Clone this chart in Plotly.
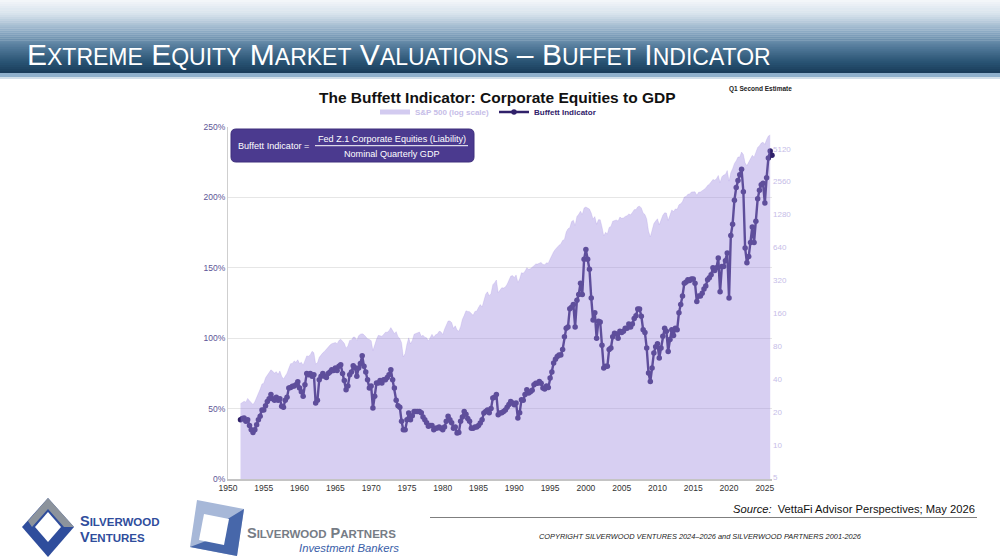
import pandas as pd
import plotly.graph_objects as go

# quarterly, Q4 1951 .. Q1 2026 (plotted at quarter start)
buffett_pct = [
    42,
    43, 43.3, 41, 42,      38, 35, 33, 35,        38.6, 42, 44.5, 49,    49, 52, 55, 57,
    60, 57, 56, 58,        56, 57, 51.6, 51,      56, 58, 64.6, 65,      65.8, 66, 67, 69,
    64.6, 62, 58.7, 67,    75, 74, 75, 73,        74, 54, 56, 70.5,      73, 75, 73, 72,
    75, 76, 77.6, 77,      78.8, 77, 80, 81.2,    75, 70, 63.4, 66,      74, 76, 80.5, 79,
    73, 78.8, 82, 87.6,    80, 76, 70.5, 64.6,    66, 50.4, 58.7, 68.2,  68.2, 70, 68.2, 70.5,
    70.5, 72, 74, 77.6,    70.5, 64.6, 56, 52,    51, 41, 35, 35,        42, 46.9, 42, 45,
    48, 48, 48, 48,        47, 44, 42, 40,        37.4, 38, 38, 35,      36, 36.2, 37, 36,
    35, 37, 41, 44.5,      42, 40, 36, 37,        32.7, 33, 41, 44,      48, 46, 43, 41,
    36, 36, 37, 37,        38, 39.8, 42, 46.9,    48, 49, 47, 50,        57.5, 58, 60, 45.7,
    46.9, 47, 48, 49,      51, 53, 55, 54,        52.8, 54, 43.3, 47,    56.3, 56, 60, 63.4,
    61, 62, 63, 67,        68, 68, 69.3, 68,      64.6, 64, 66, 65,      71.7, 76, 82.4, 85,
    87, 88, 88, 92,        101, 107, 108, 121,    122, 124, 108, 127,    131, 139, 131, 156,
    163, 156, 149, 128.5,  113, 118, 100, 112,    111.5, 95, 78.8, 80,   80, 92, 93, 101,
    103.5, 103, 100, 105,  104, 105, 107, 107,    110, 108, 110, 114,    116, 120.7, 120.7, 115.6,
    106, 104, 93, 75.3,    69.3, 78.8, 89.5, 94,  96, 86, 93, 101.3,     107, 105, 90.6, 99,
    106, 102, 107, 106,    118, 124, 130, 139,    140, 141.6, 141, 142,  142, 139, 126, 130,
    130, 132, 135, 137,    141.6, 143, 145, 150,  148, 150, 157, 133,    151, 151, 155, 160.5,
    128.5, 173, 181, 198,  207, 212, 216, 220,    204, 164, 153.6, 158,  168, 179, 168, 183,
    199, 205, 209, 210,    196, 214, 228, 233,
    230,
]

# S&P 500 quarter-end close, Q4 1951 .. Q4 2025
sp500 = [
    23.77,
    24.37, 24.96, 24.54, 26.57,   25.29, 24.14, 23.35, 24.81,   26.94, 29.21, 32.31, 35.98,
    36.58, 41.03, 43.67, 45.48,   48.48, 46.97, 45.35, 46.67,   44.11, 47.37, 42.42, 39.99,
    42.10, 45.24, 50.06, 55.21,   55.44, 58.47, 56.88, 59.89,   55.34, 56.92, 53.52, 58.11,
    65.06, 64.64, 66.73, 71.55,   69.55, 54.75, 56.27, 63.10,   66.57, 69.37, 71.70, 75.02,
    78.98, 81.69, 84.18, 84.75,   86.16, 84.12, 89.96, 92.43,   89.23, 84.74, 76.56, 80.33,
    90.20, 90.64, 96.71, 96.47,   90.20, 99.58, 102.67, 103.86, 101.51, 97.71, 93.12, 92.06,
    89.63, 72.72, 84.21, 92.15,   100.31, 99.70, 98.34, 102.09, 107.20, 107.14, 110.55, 118.05,
    111.52, 104.26, 108.43, 97.55, 93.98, 86.00, 63.54, 68.56,  83.36, 95.19, 83.87, 90.19,
    102.77, 104.28, 105.24, 107.46, 98.42, 100.48, 96.53, 95.10, 89.21, 95.53, 102.54, 96.11,
    101.59, 102.91, 109.32, 107.94, 102.09, 114.24, 125.46, 135.76, 136.00, 131.21, 116.18, 122.55,
    111.96, 109.61, 120.42, 140.64, 152.96, 168.11, 166.07, 164.93, 159.18, 153.18, 166.10, 167.24,
    180.66, 191.85, 182.08, 211.28, 238.90, 250.84, 231.32, 242.17, 291.70, 304.00, 321.83, 247.08,
    258.89, 273.50, 271.91, 277.72, 294.87, 317.98, 349.15, 353.40, 339.94, 358.02, 306.05, 330.22,
    375.22, 371.16, 387.86, 417.09, 403.69, 408.14, 417.80, 435.71, 451.67, 450.53, 458.93, 466.45,
    445.77, 444.27, 462.69, 459.27, 500.71, 544.75, 584.41, 615.93, 645.50, 670.63, 687.31, 740.74,
    757.12, 885.14, 947.28, 970.43, 1101.75, 1133.84, 1017.01, 1229.23,
    1286.37, 1372.71, 1282.71, 1469.25, 1498.58, 1454.60, 1436.51, 1320.28,
    1160.33, 1224.42, 1040.94, 1148.08, 1147.39, 989.82, 815.28, 879.82,
    848.18, 974.50, 995.97, 1111.92, 1126.21, 1140.84, 1114.58, 1211.92,
    1180.59, 1191.33, 1228.81, 1248.29, 1294.83, 1270.20, 1335.85, 1418.30,
    1420.86, 1503.35, 1526.75, 1468.36, 1322.70, 1280.00, 1166.36, 903.25,
    797.87, 919.32, 1057.08, 1115.10, 1169.43, 1030.71, 1141.20, 1257.64,
    1325.83, 1320.64, 1131.42, 1257.60, 1408.47, 1362.16, 1440.67, 1426.19,
    1569.19, 1606.28, 1681.55, 1848.36, 1872.34, 1960.23, 1972.29, 2058.90,
    2067.89, 2063.11, 1920.03, 2043.94, 2059.74, 2098.86, 2168.27, 2238.83,
    2362.72, 2423.41, 2519.36, 2673.61, 2640.87, 2718.37, 2913.98, 2506.85,
    2834.40, 2941.76, 2976.74, 3230.78, 2584.59, 3100.29, 3363.00, 3756.07,
    3972.89, 4297.50, 4307.54, 4766.18, 4530.41, 3785.38, 3585.62, 3839.50,
    4109.31, 4450.38, 4288.05, 4769.83, 5254.35, 5460.48, 5762.48, 5881.63,
    5611.85, 6204.95, 6688.46, 6845.50,
]

quarters = pd.date_range("1951-10-01", periods=len(buffett_pct), freq="QS")
sp_quarters = quarters[:len(sp500)]

right_ticks = [5, 10, 20, 40, 80, 160, 320, 640, 1280, 2560, 5120]
left_ticks = [0, 50, 100, 150, 200, 250]

PURPLE = "#30216a"
LAV_TXT = "#c6bde8"

# pixel -> paper helpers (plot area 228..772 x 127..479)
def fx(p):
    return (p - 228) / 544.0

def fy(p):
    return (479 - p) / 352.0

fig = go.Figure()

fig.add_trace(go.Scatter(
    x=sp_quarters, y=sp500, yaxis="y2", mode="lines",
    line=dict(color="rgba(160,140,225,0.45)", width=0.5),
    fill="tozeroy", fillcolor="rgba(160,140,225,0.42)",
    showlegend=False, hoverinfo="skip"))

# legend-only entries
fig.add_trace(go.Scatter(
    x=[None], y=[None], mode="lines", line=dict(color="#d3cbf0", width=5),
    name="<b><span style='color:%s'>S&P 500 (log scale)</span></b>" % LAV_TXT))

fig.add_trace(go.Scatter(
    x=quarters, y=buffett_pct, mode="lines+markers",
    line=dict(color=PURPLE, width=2.4),
    marker=dict(color=PURPLE, size=5.5),
    name="<b><span style='color:%s'>Buffett Indicator</span></b>" % PURPLE,
    cliponaxis=False))

shapes = []
annotations = []

# header banner gradient
stops = [(0, (246, 248, 251)), (14, (214, 226, 236)), (32, (140, 170, 196)),
         (48, (80, 120, 152)), (62, (42, 84, 116)), (73, (25, 60, 90))]
nb = 36
for i in range(nb):
    y0 = 73 * i / nb
    y1 = 73 * (i + 1) / nb + 0.3
    ym = (y0 + y1) / 2
    for (a, ca), (b, cb) in zip(stops[:-1], stops[1:]):
        if a <= ym <= b:
            t = (ym - a) / (b - a)
            c = tuple(int(ca[k] + (cb[k] - ca[k]) * t) for k in range(3))
            break
    shapes.append(dict(type="rect", xref="paper", yref="paper",
                       x0=fx(0), x1=fx(1000), y0=fy(y1), y1=fy(y0),
                       fillcolor="rgb(%d,%d,%d)" % c, line=dict(width=0), layer="below"))
shapes.append(dict(type="rect", xref="paper", yref="paper", x0=fx(0), x1=fx(1000),
                   y0=fy(77), y1=fy(73), fillcolor="#8fb0cc", line=dict(width=0)))
shapes.append(dict(type="rect", xref="paper", yref="paper", x0=fx(0), x1=fx(1000),
                   y0=fy(79), y1=fy(77), fillcolor="#d3e0ea", line=dict(width=0)))

def small_caps(words, small):
    out = []
    for w in words:
        out.append("%s<span style='font-size:%dpx'>%s</span>" % (w[0], small, w[1:]))
    return " ".join(out)

header = small_caps(["EXTREME", "EQUITY", "MARKET", "VALUATIONS"], 23) + \
    " – " + small_caps(["BUFFET", "INDICATOR"], 23)
annotations.append(dict(xref="paper", yref="paper", x=fx(25), y=fy(54),
                        xanchor="left", yanchor="middle", showarrow=False,
                        text=header,
                        font=dict(family="Liberation Sans, Arial, sans-serif",
                                  size=30, color="white")))

# chart title
annotations.append(dict(xref="paper", yref="paper", x=fx(497), y=fy(97),
                        xanchor="center", yanchor="middle", showarrow=False,
                        text="<b>The Buffett Indicator: Corporate Equities to GDP</b>",
                        font=dict(family="Liberation Sans, Arial, sans-serif", size=15.5, color="#111")))
annotations.append(dict(xref="paper", yref="paper", x=fx(760), y=fy(89),
                        xanchor="center", yanchor="middle", showarrow=False,
                        text="<b>Q1 Second Estimate</b>",
                        font=dict(family="Liberation Sans, Arial, sans-serif", size=6.5, color="#222")))

# formula box
bx0, bx1, by0, by1, r = 231, 474, 129, 162, 5
path = ("M %f,%f L %f,%f Q %f,%f %f,%f L %f,%f Q %f,%f %f,%f L %f,%f Q %f,%f %f,%f "
        "L %f,%f Q %f,%f %f,%f Z") % (
    fx(bx0 + r), fy(by0), fx(bx1 - r), fy(by0), fx(bx1), fy(by0), fx(bx1), fy(by0 + r),
    fx(bx1), fy(by1 - r), fx(bx1), fy(by1), fx(bx1 - r), fy(by1),
    fx(bx0 + r), fy(by1), fx(bx0), fy(by1), fx(bx0), fy(by1 - r),
    fx(bx0), fy(by0 + r), fx(bx0), fy(by0), fx(bx0 + r), fy(by0))
shapes.append(dict(type="path", xref="paper", yref="paper", path=path,
                   fillcolor="#4b3a8f", line=dict(color="#3e2f7c", width=1)))
shapes.append(dict(type="line", xref="paper", yref="paper", x0=fx(315), x1=fx(468),
                   y0=fy(145.7), y1=fy(145.7), line=dict(color="white", width=1)))
ffont = dict(family="Liberation Sans, Arial, sans-serif", size=9.1, color="white")
annotations.append(dict(xref="paper", yref="paper", x=fx(236), y=fy(146), xanchor="left",
                        yanchor="middle", showarrow=False, text="Buffett Indicator =", font=ffont))
annotations.append(dict(xref="paper", yref="paper", x=fx(392), y=fy(138.5), xanchor="center",
                        yanchor="middle", showarrow=False,
                        text="Fed Z.1 Corporate Equities (Liability)", font=ffont))
annotations.append(dict(xref="paper", yref="paper", x=fx(392), y=fy(153.5), xanchor="center",
                        yanchor="middle", showarrow=False, text="Nominal Quarterly GDP", font=ffont))

# source + copyright
annotations.append(dict(xref="paper", yref="paper", x=fx(977), y=fy(509), xanchor="right",
                        yanchor="middle", showarrow=False,
                        text="<i>Source:</i>  VettaFi Advisor Perspectives; May 2026",
                        font=dict(family="Liberation Sans, sans-serif", size=11.2, color="#111")))
shapes.append(dict(type="line", xref="paper", yref="paper", x0=fx(430), x1=fx(977),
                   y0=fy(517.5), y1=fy(517.5), line=dict(color="#7f7f7f", width=1.2)))
annotations.append(dict(xref="paper", yref="paper", x=fx(700), y=fy(536), xanchor="center",
                        yanchor="middle", showarrow=False,
                        text="<i>COPYRIGHT SILVERWOOD VENTURES 2024–2026 and SILVERWOOD PARTNERS 2001-2026</i>",
                        font=dict(family="Liberation Sans, sans-serif", size=7.4, color="#222")))

# Silverwood Ventures logo
def poly(pts, color, line=None):
    d = "M " + " L ".join("%f,%f" % (fx(a), fy(b)) for a, b in pts) + " Z"
    return dict(type="path", xref="paper", yref="paper", path=d, fillcolor=color,
                line=line or dict(width=0))

shapes.append(poly([(48, 498), (74, 527), (48, 557), (22, 527)], "#2f4d9c"))
shapes.append(poly([(48, 498), (74, 527), (64, 527), (48, 509), (32, 527), (28, 521)], "#8c939c"))
shapes.append(poly([(48, 512), (61, 527), (48, 542), (35, 527)], "white"))
vfont = dict(family="Liberation Sans, Arial, sans-serif", size=14.5, color="#2f4d9c")
annotations.append(dict(xref="paper", yref="paper", x=fx(78), y=fy(521), xanchor="left",
                        yanchor="middle", showarrow=False,
                        text="<b>S<span style='font-size:11.5px'>ILVERWOOD</span></b>", font=vfont))
annotations.append(dict(xref="paper", yref="paper", x=fx(78), y=fy(537), xanchor="left",
                        yanchor="middle", showarrow=False,
                        text="<b>V<span style='font-size:11.5px'>ENTURES</span></b>", font=vfont))

# Silverwood Partners logo
shapes.append(poly([(197, 500), (244, 509), (237, 556), (190, 547)], "#a7b8d8"))
shapes.append(poly([(244, 509), (237, 556), (190, 547), (214, 538), (226, 520)], "#4767aa"))
shapes.append(poly([(204, 514), (229, 519), (224, 545), (199, 540)], "white"))
annotations.append(dict(xref="paper", yref="paper", x=fx(245), y=fy(533), xanchor="left",
                        yanchor="middle", showarrow=False,
                        text="<b>S<span style='font-size:11.5px'>ILVERWOOD</span> P<span style='font-size:11.5px'>ARTNERS</span></b>",
                        font=dict(family="Liberation Sans, Arial, sans-serif", size=14.5, color="#767c85")))
annotations.append(dict(xref="paper", yref="paper", x=fx(401), y=fy(548), xanchor="right",
                        yanchor="middle", showarrow=False, text="<i>Investment Bankers</i>",
                        font=dict(family="Liberation Sans, sans-serif", size=11.3, color="#3a5ea8")))

fig.update_layout(
    width=1000, height=560,
    margin=dict(l=228, r=228, t=127, b=81),
    paper_bgcolor="white", plot_bgcolor="white",
    font=dict(family="Liberation Sans, Arial, sans-serif"),
    showlegend=True,
    legend=dict(orientation="h", x=fx(488), y=fy(112), xanchor="center", yanchor="middle",
                font=dict(size=8), itemwidth=30, tracegroupgap=0, bgcolor="rgba(0,0,0,0)"),
    xaxis=dict(type="date", range=["1950-01-01", "2026-01-01"], dtick="M60",
               tick0="1950-01-01", tickformat="%Y", showgrid=False,
               showline=True, linecolor="#c4c4c4", linewidth=1.5, ticks="",
               tickfont=dict(size=8.5, color="#333"), zeroline=False),
    yaxis=dict(range=[0, 250], tickvals=left_ticks,
               ticktext=["%d%%" % v for v in left_ticks],
               showgrid=True, gridcolor="#e6e6e6", gridwidth=1,
               showline=True, linecolor="#cfcfcf", zeroline=False,
               tickfont=dict(size=8.5, color="#5d5596")),
    yaxis2=dict(type="log", overlaying="y", side="right",
                range=[0.6866, 3.908], tickvals=right_ticks,
                ticktext=[str(v) for v in right_ticks], showgrid=False,
                showline=False, zeroline=False,
                tickfont=dict(size=8, color=LAV_TXT)),
    shapes=shapes, annotations=annotations,
)

fig.write_html("out.html", config={"displayModeBar": False},
               post_script="document.body.style.margin='0';")
